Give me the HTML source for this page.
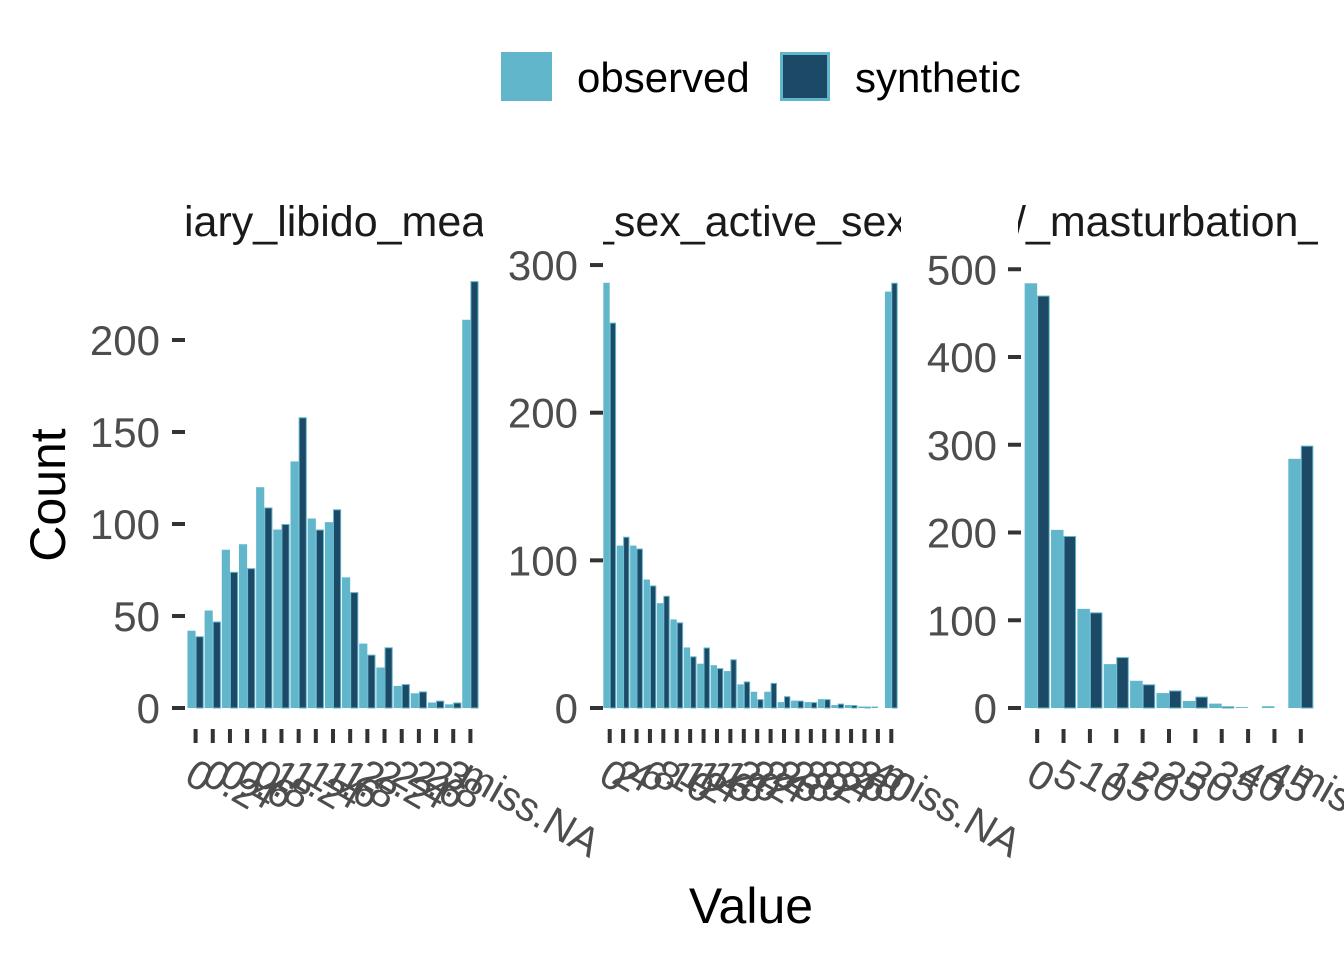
<!DOCTYPE html>
<html><head><meta charset="utf-8"><style>
html,body{margin:0;padding:0;background:#fff;}
text{font-family:"Liberation Sans",sans-serif;}
</style></head><body>
<svg id="chart" width="1344" height="960" viewBox="0 0 1344 960" xmlns="http://www.w3.org/2000/svg">
<defs>
<clipPath id="c1"><rect x="183" y="180" width="300" height="70"/></clipPath>
<clipPath id="c2"><rect x="603" y="180" width="298" height="70"/></clipPath>
<clipPath id="c3"><rect x="1018" y="180" width="300" height="70"/></clipPath>
</defs>
<g>
<rect x="501" y="52" width="51" height="49" fill="#61b6cb"/>
<text x="577" y="92" font-size="42" fill="#000">observed</text>
<rect x="781.5" y="53.5" width="47" height="46" fill="#1c4966" stroke="#61b6cb" stroke-width="3"/>
<text x="855" y="92" font-size="42" fill="#000">synthetic</text>
</g>
<text transform="translate(65,495) rotate(-90)" text-anchor="middle" font-size="50" fill="#000">Count</text>
<text x="751" y="923" text-anchor="middle" font-size="50" fill="#000">Value</text>
<g id="panels"></g>
</svg>
<script>
const cats1 = ["0","0.2","0.4","0.6","0.8","1","1.2","1.4","1.6","1.8","2","2.2","2.4","2.6","2.8","3","miss.NA"];
const obs1 = [42,53,86,89,120,97,134,103,101,71,35,22,12,8,3,2,211];
const syn1 = [39,47,74,76,109,100,158,97,108,63,29,33,13,9,4,3,232];
const ticks1 = [0,50,100,150,200];

const cats2 = ["0","2","4","6","8","10","12","14","16","18","20","22","24","26","28","30","32","34","36","38","40","miss.NA"];
const obs2 = [288,110,110,87,71,60,41,30,29,25,16,11,11,4,5,4,6,2,2,1,1,282];
const syn2 = [261,116,108,83,76,58,35,41,27,33,18,6,17,8,5,4,6,3,2,1,0,288];
const ticks2 = [0,100,200,300];

const cats3 = ["0","5","10","15","20","25","30","35","40","45","miss.NA"];
const obs3 = [484,203,113,50,31,17,8,5,1,2,284];
const syn3 = [470,196,109,58,27,20,13,2,0,0,299];
const ticks3 = [0,100,200,300,400,500];

const titles = ["iary_libido_mea","_sex_active_sex","/_masturbation_"];
const NS="http://www.w3.org/2000/svg";
const root=document.getElementById('panels');
function mk(tag,attrs,parent){const e=document.createElementNS(NS,tag);for(const k in attrs)e.setAttribute(k,attrs[k]);(parent||root).appendChild(e);return e;}

const panels=[
 {cats:cats1,obs:obs1,syn:syn1,ticks:ticks1,x0:187,x1:479,k:1.84,lblEnd:160,tk:172,tx:184,clip:"c1"},
 {cats:cats2,obs:obs2,syn:syn2,ticks:ticks2,x0:603,x1:898,k:1.4765,lblEnd:578,tk:590,tx:590,clip:"c2"},
 {cats:cats3,obs:obs3,syn:syn3,ticks:ticks3,x0:1024,x1:1314,k:0.8775,lblEnd:997,tk:1008,tx:1014,clip:"c3"}
];
const base=708;
panels.forEach((p,pi)=>{
 const g=mk('g',{});
 
 
 const t=mk('text',{x:p.tx,y:236,'font-size':43,fill:'#1a1a1a','clip-path':'url(#'+p.clip+')'},g);
 t.textContent=titles[pi];
 
 
 const y=v=>base-v*p.k;
 p.ticks.forEach(v=>{
  const l=mk('line',{x1:p.tk,x2:p.tk+13,y1:y(v),y2:y(v),stroke:'#333',"stroke-width":4},g);
  
  
  const tt=mk('text',{x:p.lblEnd,y:y(v)+15,'text-anchor':'end','font-size':42,fill:'#4d4d4d'},g);
  tt.textContent=v;
  
  
 });
 const n=p.cats.length, bw=(p.x1-p.x0)/n, w=bw*0.475;
 p.cats.forEach((c,i)=>{
  const cx=p.x0+bw*(i+0.5);
  const o=mk('rect',{x:cx-w,y:y(p.obs[i]),width:w,height:p.obs[i]*p.k,fill:'#61b6cb'},g);
  
  
  const s=mk('rect',{x:cx+0.5,y:y(p.syn[i])+0.5,width:Math.max(w-1,0.5),height:Math.max(p.syn[i]*p.k-0.5,0),fill:'#1c4966',stroke:'#61b6cb','stroke-width':1},g);
  
  
  const tk=mk('line',{x1:cx,x2:cx,y1:729,y2:743,stroke:'#333','stroke-width':4},g);
  
  
  const lb=mk('text',{x:0,y:0,'font-size':41,fill:'#4d4d4d',transform:'translate('+(cx-13)+',782) rotate(30)'},g);
  lb.textContent=c;
  
  
 });
});
</script>
</body></html>
